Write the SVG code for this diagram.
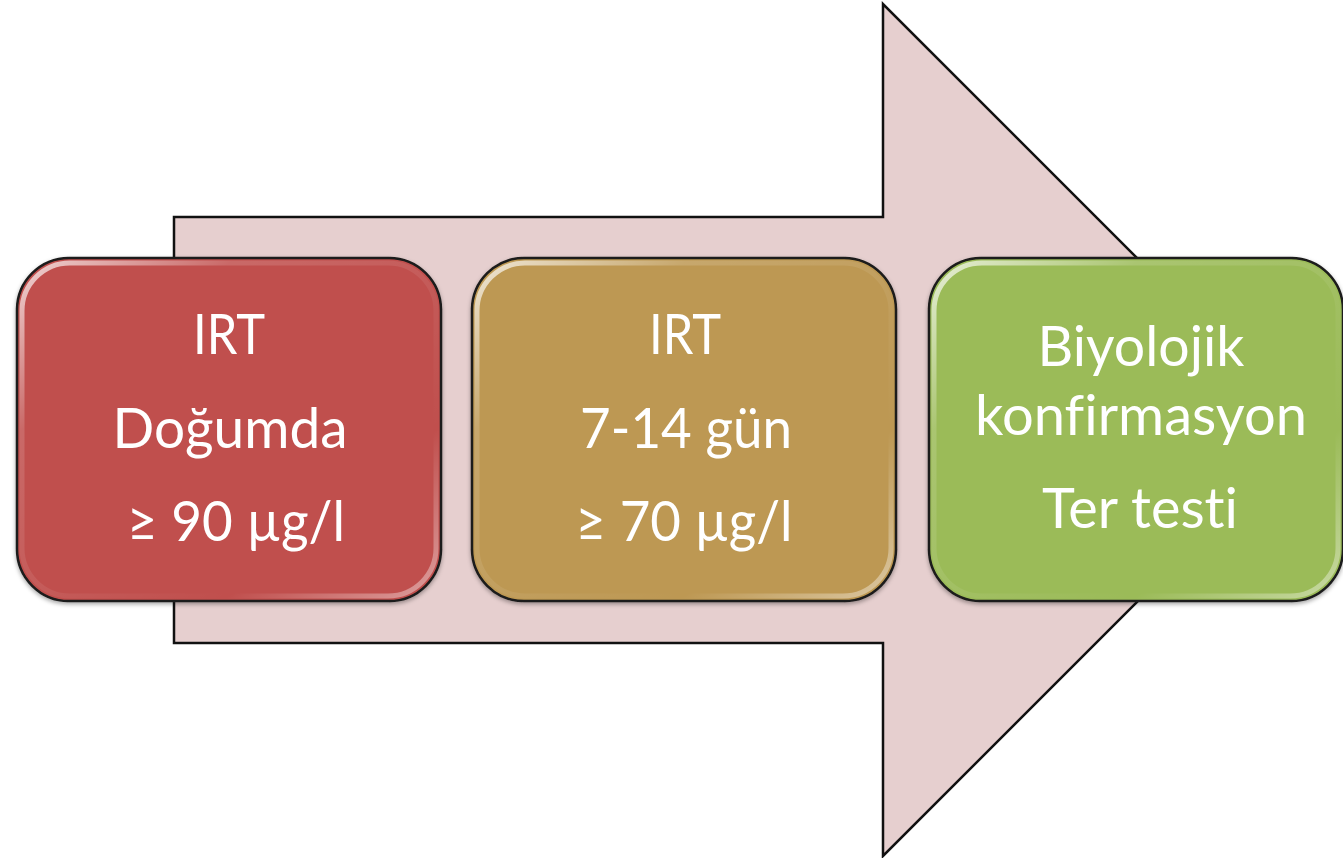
<svg xmlns="http://www.w3.org/2000/svg" width="1343" height="858" viewBox="0 0 1343 858">
<style>
.box{stroke:#1a1a1a;stroke-width:2.5}
.hl{fill:none;stroke:url(#hlg);stroke-width:5}
.t{font-family:Lato,"Open Sans","Liberation Sans",sans-serif;font-size:57px;fill:#ffffff;text-anchor:middle;font-variant-ligatures:none;font-feature-settings:"liga" 0,"clig" 0}
</style>
<defs>
<linearGradient id="hlg" x1="0" y1="0" x2="1" y2="1">
<stop offset="0" stop-color="#ffffff" stop-opacity="0.75"/>
<stop offset="0.25" stop-color="#ffffff" stop-opacity="0.15"/>
<stop offset="0.75" stop-color="#ffffff" stop-opacity="0"/>
<stop offset="1" stop-color="#ffffff" stop-opacity="0.45"/>
</linearGradient>
<filter id="sh" x="-5%" y="-5%" width="110%" height="115%">
<feDropShadow dx="0" dy="2" stdDeviation="2" flood-color="#000" flood-opacity="0.35"/>
</filter>
</defs>
<g id="arrow">
<path d="M174 217 H883 V4 L1309 430 L883 856 V643 H174 Z" fill="#E6CFCF" stroke="#111" stroke-width="2.5" stroke-linejoin="miter"/>
</g>
<g id="node1">
<rect class="box" x="17" y="258" width="424" height="343" rx="52" fill="#C0504D" filter="url(#sh)"/>
<rect class="hl" x="22" y="263" width="414" height="333" rx="48"/>
<text class="t" x="229" y="354" textLength="72" lengthAdjust="spacingAndGlyphs">IRT</text>
<text class="t" x="230" y="448" textLength="235" lengthAdjust="spacingAndGlyphs">Doğumda</text>
<text class="t" x="236" y="541" textLength="218" lengthAdjust="spacingAndGlyphs">≥ 90 µg/l</text>
</g>
<g id="node2">
<rect class="box" x="472" y="258" width="424" height="343" rx="52" fill="#BD9852" filter="url(#sh)"/>
<rect class="hl" x="477" y="263" width="414" height="333" rx="48"/>
<text class="t" x="685" y="354" textLength="72" lengthAdjust="spacingAndGlyphs">IRT</text>
<text class="t" x="686" y="448" textLength="212" lengthAdjust="spacingAndGlyphs">7-14 gün</text>
<text class="t" x="684" y="541" textLength="217" lengthAdjust="spacingAndGlyphs">≥ 70 µg/l</text>
</g>
<g id="node3">
<rect class="box" x="929" y="258" width="414" height="343" rx="52" fill="#9BBB59" filter="url(#sh)"/>
<rect class="hl" x="934" y="263" width="404" height="333" rx="48"/>
<text class="t" x="1141" y="366" textLength="207" lengthAdjust="spacingAndGlyphs">Biyolojik</text>
<text class="t" x="1141" y="435" textLength="332" lengthAdjust="spacingAndGlyphs">konfirmasyon</text>
<text class="t" x="1140" y="528" textLength="196" lengthAdjust="spacingAndGlyphs">Ter testi</text>
</g>
<g id="connectors"/>
</svg>
